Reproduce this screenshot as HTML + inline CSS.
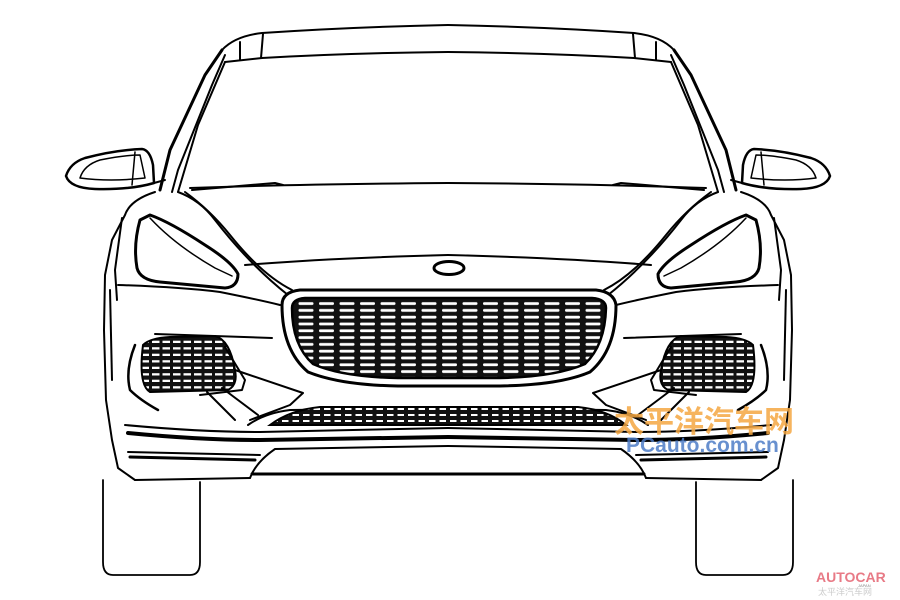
<!DOCTYPE html>
<html><head><meta charset="utf-8"><style>
html,body{margin:0;padding:0;background:#fff;width:900px;height:600px;overflow:hidden}
svg{display:block}
</style></head><body>
<svg width="900" height="600" viewBox="0 0 900 600" xmlns="http://www.w3.org/2000/svg">
<defs>
<pattern id="mesh" x="296" y="300" width="20.5" height="6.8" patternUnits="userSpaceOnUse">
<rect width="20.5" height="6.8" fill="#111"/>
<rect x="2.5" y="2.2" width="15" height="2.8" rx="1.2" fill="#fff"/>
</pattern>
<pattern id="mesh2" x="280" y="406" width="10.5" height="6" patternUnits="userSpaceOnUse">
<rect width="10.5" height="6" fill="#111"/>
<rect x="2" y="2" width="6.5" height="2" fill="#fff"/>
</pattern>
<pattern id="mesh3" x="140" y="345" width="10.5" height="6.5" patternUnits="userSpaceOnUse">
<rect width="10.5" height="6.5" fill="#111"/>
<rect x="1.5" y="2.2" width="7.5" height="2.3" fill="#fff"/>
</pattern>
<g id="half" fill="none" stroke="#000" stroke-width="2" stroke-linejoin="round" stroke-linecap="round">
<path d="M222 50 Q235 36 262 33 Q350 27 448 25"/>
<path d="M225 62 L262 58 Q350 53 448 52"/>
<path d="M240 42 L240 60 M263 34 L261 58"/>
<path d="M222 50 L205 75 L170 150 L160 190" stroke-width="3"/>
<path d="M225 55 L212 85 L178 170 L172 192"/>
<path d="M225 62 L198 125 L178 192"/>
<path d="M190 188 Q300 184 448 183"/>
<path d="M192 190 L275 183 L283 185"/>
<path d="M66 176 Q70 163 85 158 Q115 150 142 149 Q150 150 153 165 L154 183 Q130 190 95 189 Q70 188 66 176 Z" stroke-width="2.5"/>
<path d="M80 178 Q84 165 100 160 Q125 155 140 155 L145 178 Q110 182 80 178 Z" stroke-width="1.5"/>
<path d="M135 152 L132 185" stroke-width="1.5"/>
<path d="M154 183 L165 180"/>
<path d="M178 192 Q200 200 215 220 Q250 265 288 295"/>
<path d="M185 192 Q210 210 230 235 Q262 275 292 290"/>
<path d="M245 265 Q330 258 448 255"/>
<path d="M140 220 Q133 245 137 268 Q140 280 160 282 L225 288 Q238 287 238 274 Q232 262 205 245 Q170 222 150 215 Z" stroke-width="3"/>
<path d="M150 218 Q175 245 215 268 L232 276" stroke-width="1.5"/>
<path d="M155 192 Q130 200 125 215 L112 240 L105 275 L104 330 L106 400 L112 440 L118 468 L135 480"/>
<path d="M122 218 L115 270 L117 300"/>
<path d="M118 285 Q180 287 220 292 Q260 300 280 305"/>
<path d="M110 290 L112 380"/>
<path d="M143 345 Q150 338 170 337 L215 336 Q230 340 235 370 Q238 385 228 390 L150 392 Q138 385 143 345 Z" fill="url(#mesh3)"/>
<path d="M155 334 L272 338"/>
<path d="M135 345 Q125 370 130 390 Q140 400 158 410" stroke-width="2.5"/>
<path d="M225 347 L245 380 L242 390 L200 395"/>
<path d="M235 370 L303 393 L290 405 L250 420"/>
<path d="M207 392 L235 420 M222 388 L258 415"/>
<path d="M125 425 Q200 432 260 432 L448 428" />
<path d="M128 433 Q200 440 260 440 L448 437" stroke-width="4"/>
<path d="M128 452 L260 455" />
<path d="M130 457 L255 460" stroke-width="3"/>
<path d="M135 480 L250 478"/>
<path d="M250 478 Q256 462 275 449 L448 446"/>
<path d="M252 474 L448 474" stroke-width="3"/>
<path d="M248 425 Q265 413 290 410 L448 408"/>
<path d="M103 480 L103 562 Q103 575 113 575 L190 575 Q200 575 200 562 L200 482" stroke-width="1.8"/>
</g>
</defs>
<use href="#half"/>
<use href="#half" transform="translate(896,0) scale(-1,1)"/>
<path d="M270 425 Q290 410 320 407 L578 407 Q608 410 626 425 Z" fill="url(#mesh2)" stroke="#000" stroke-width="2"/>
<ellipse cx="449" cy="268" rx="15" ry="6.5" fill="none" stroke="#000" stroke-width="3"/>
<path d="M282 305 Q282 292 300 290 L596 290 Q614 292 616 305 Q616 350 590 372 Q560 385 500 386 L398 386 Q340 385 308 372 Q282 350 282 305 Z" fill="#fff" stroke="#000" stroke-width="3"/>
<path d="M292 308 Q292 299 305 298 L592 298 Q606 299 606 308 Q605 345 585 364 Q555 377 500 378 L398 378 Q342 377 313 364 Q292 345 292 308 Z" fill="url(#mesh)" stroke="#000" stroke-width="2.5"/>
<text x="614" y="432" font-family="'Liberation Sans','Noto Sans CJK SC',sans-serif" font-size="30" font-weight="bold" fill="#f5a742" fill-opacity="0.85">太平洋汽车网</text>
<text x="626" y="452" font-family="'Liberation Sans',sans-serif" font-size="21" font-weight="bold" fill="#4d7cc7" fill-opacity="0.85">PCauto.com.cn</text>
<text x="816" y="582" font-family="'Liberation Sans',sans-serif" font-size="14" font-weight="bold" fill="#e87a86">AUTOCAR</text>
<text x="858" y="587" font-family="'Liberation Sans',sans-serif" font-size="4" fill="#888">JAPAN</text>
<text x="818" y="595" font-family="'Liberation Sans','Noto Sans CJK SC',sans-serif" font-size="9" fill="#ccc">太平洋汽车网</text>
</svg>
</body></html>
